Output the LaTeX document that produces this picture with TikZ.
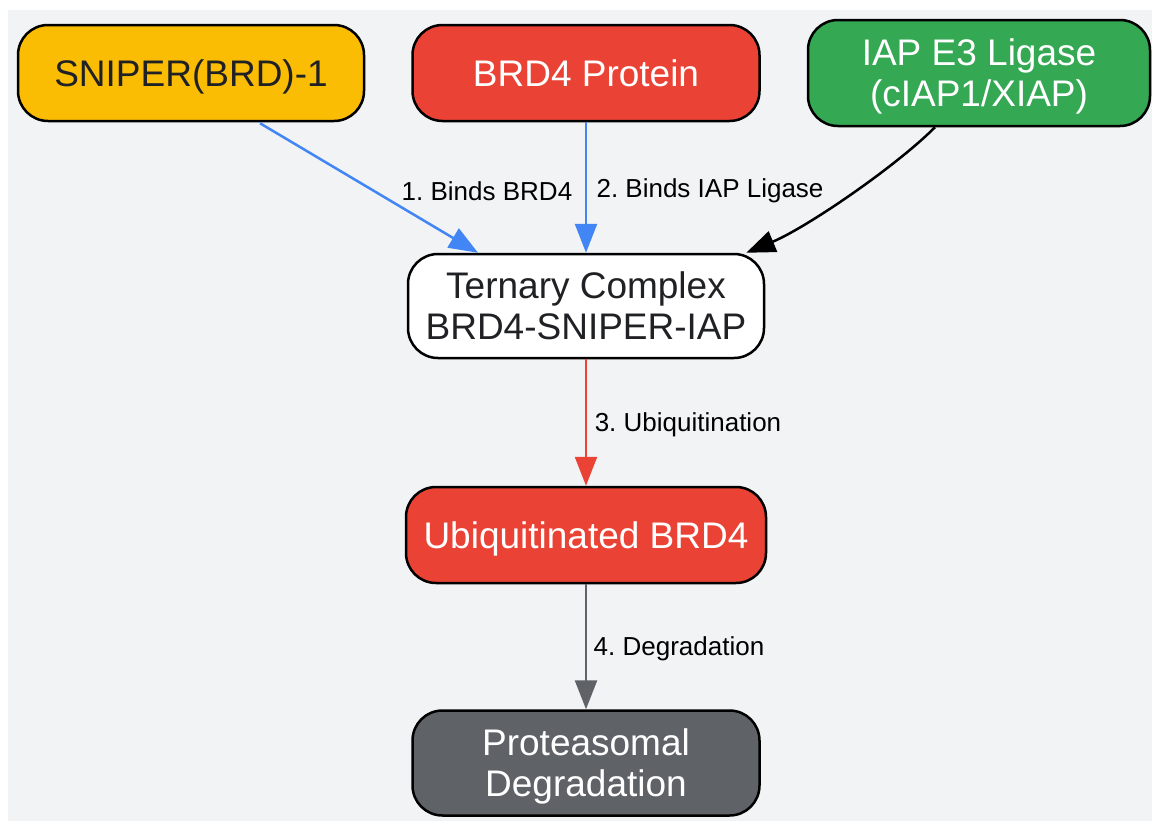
\documentclass[tikz,border=0pt]{standalone}
\usepackage{fontspec}
\setmainfont{Liberation Sans}
\frenchspacing
\usetikzlibrary{arrows.meta,calc}
\definecolor{bggray}{HTML}{F1F3F4}
\definecolor{gyellow}{HTML}{FBBC04}
\definecolor{gred}{HTML}{EA4335}
\definecolor{ggreen}{HTML}{34A853}
\definecolor{gblue}{HTML}{4285F4}
\definecolor{ggray}{HTML}{5F6368}
\definecolor{gdark}{HTML}{202124}
\tikzset{
  box/.style={draw=black, line width=2.5pt, rounded corners=30pt, align=center,
    font=\fontsize{37}{41}\selectfont, inner sep=0pt, text depth=0pt},
  edge/.style={line width=2.5pt, -{Triangle[length=29pt,width=22pt]}},
  elabel/.style={font=\fontsize{26}{30}\selectfont, text=black, inner sep=0pt}
}
\begin{document}
\begin{tikzpicture}[x=1pt,y=-1pt]
\useasboundingbox (0,0) rectangle (1152,822);
\fill[bggray] (8,10) rectangle (1152,821);
\node[box, fill=gyellow, text=gdark, minimum width=346pt, minimum height=96pt] (sniper) at (191,73) {SNIPER(BRD)-1};
\node[box, fill=gred, text=white, minimum width=347pt, minimum height=96pt] (brd) at (586,73) {BRD4 Protein};
\node[box, fill=ggreen, text=white, minimum width=342pt, minimum height=106pt] (iap) at (979,73) {IAP E3 Ligase\\(cIAP1/XIAP)};
\node[box, fill=white, text=gdark, minimum width=356pt, minimum height=104pt] (tern) at (586,306) {Ternary Complex\\BRD4-SNIPER-IAP};
\node[box, fill=gred, text=white, minimum width=360pt, minimum height=96pt] (ubi) at (586,535) {Ubiquitinated BRD4};
\node[box, fill=ggray, text=white, minimum width=347pt, minimum height=105pt] (prot) at (586,763) {Proteasomal\\Degradation};

\draw[edge, gblue] ($(sniper.south)+(69,1)$) -- ($(tern.north)+(-108,0)$);
\draw[edge, gblue] (brd.south) -- (tern.north);
\draw[edge, black] ($(iap.south)+(-44,0)$) .. controls +(-40,40) and +(60,-25) .. ($(tern.north east)+(-19,0)$);
\draw[edge, gred] (tern.south) -- (ubi.north);
\draw[edge, ggray] (ubi.south) -- (prot.north);

\node[elabel] (l1) at (487,191) {1. Binds BRD4};
\node[elabel] (l2) at (710,191) {2. Binds IAP Ligase};
\node[elabel] (l3) at (688,425) {3. Ubiquitination};
\node[elabel] (l4) at (679,649) {4. Degradation};
\end{tikzpicture}
\end{document}
